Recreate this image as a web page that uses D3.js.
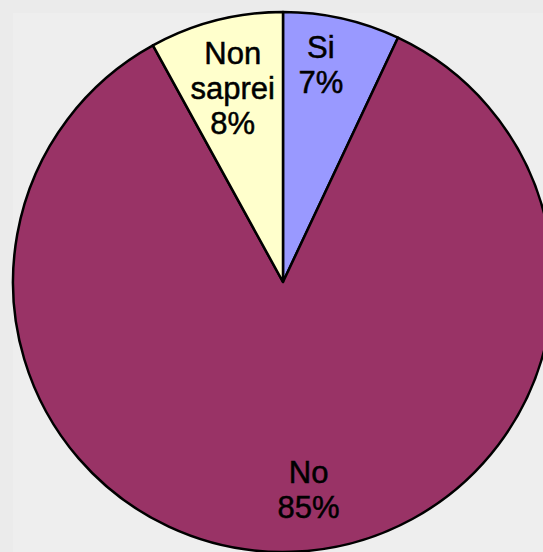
<!DOCTYPE html>
<html>
<head>
<meta charset="utf-8">
<script src="https://cdn.jsdelivr.net/npm/d3@7"></script>
<style>
  html, body { margin: 0; padding: 0; background: #ebebeb; }
  svg { display: block; }
  .lbl { font-family: 'Liberation Sans', Arial, sans-serif; font-size: 31px; fill: #000; stroke: #000; stroke-width: 0.5px; }
</style>
</head>
<body>
<div id="chart"></div>
<script>
// chart data (clockwise from 12 o'clock)
const categories = ['Si', 'No', 'Non saprei'];
const values = [7, 85, 8];
const percentLabels = ['7%', '85%', '8%'];
const colors = ['#9999ff', '#993366', '#ffffcc'];

const W = 543, H = 552;
const cx = 283, cy = 282, R = 270;

const svg = d3.select('#chart').append('svg')
    .attr('width', W)
    .attr('height', H);

svg.append('rect')
    .attr('x', 13).attr('y', 13)
    .attr('width', W - 13).attr('height', H - 13)
    .attr('fill', '#eeeeee');

const g = svg.append('g').attr('transform', `translate(${cx},${cy})`);

const pie = d3.pie().sort(null).value(d => d.v);
const arcs = pie(categories.map((c, i) => ({ name: c, v: values[i], pct: percentLabels[i], color: colors[i] })));

const arc = d3.arc().innerRadius(0).outerRadius(R);

g.selectAll('path.slice')
    .data(arcs)
    .enter().append('path')
    .attr('class', 'slice')
    .attr('d', arc)
    .attr('fill', d => d.data.color)
    .attr('stroke', '#000')
    .attr('stroke-width', 2.5)
    .attr('stroke-linejoin', 'round');

// label placement, roughly like excel does it
const labelArc = d3.arc().innerRadius(0).outerRadius(420);
const nudge = { 'Si': [-8, -13], 'No': [19, -2], 'Non saprei': [2, 9] };
const lineH = 35;

const labels = g.selectAll('text.lbl')
    .data(arcs)
    .enter().append('text')
    .attr('class', 'lbl')
    .attr('text-anchor', 'middle')
    .attr('transform', d => {
        const c = labelArc.centroid(d);
        const n = nudge[d.data.name];
        return `translate(${c[0] + n[0]},${c[1] + n[1]})`;
    });

labels.each(function(d) {
    const lines = d.data.name.split(' ').concat([d.data.pct]);
    const t = d3.select(this);
    const top = -(lines.length - 1) * lineH / 2 + 11;
    lines.forEach((l, i) => {
        t.append('tspan').attr('x', 0).attr('y', top + i * lineH).text(l);
    });
});
</script>
</body>
</html>
